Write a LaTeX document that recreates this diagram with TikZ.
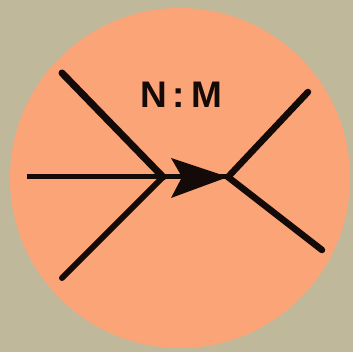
\documentclass[tikz,border=0pt]{standalone}
\usepackage{fontspec}
\setmainfont{Liberation Sans}
\definecolor{bgc}{RGB}{192,184,154}
\definecolor{disc}{RGB}{251,164,120}
\definecolor{ink}{RGB}{20,10,8}
\begin{document}
\begin{tikzpicture}[x=1pt,y=-1pt,
  thickline/.style={draw=ink,line cap=round},
  label/.style={text=ink,font=\bfseries\fontsize{37}{37}\selectfont,inner sep=0pt}]
\fill[bgc] (0,0) rectangle (353,352);
\useasboundingbox (0,0) rectangle (353,352);
\fill[disc] (180,178) circle (170);
\coordinate (ul) at (62,73);
\coordinate (ll) at (62,278);
\coordinate (l) at (27,177);
\coordinate (j1) at (163,177);
\coordinate (j2) at (228,177);
\coordinate (ur) at (308,92);
\coordinate (lr) at (322,250);
\draw[thickline,line width=7pt] (ul) -- (j1);
\draw[thickline,line width=6pt] (ll) -- (j1);
\draw[thickline,line width=5pt,line cap=butt] (l) -- (j2);
\draw[thickline,line width=6.5pt] (ur) -- (j2);
\draw[thickline,line width=6.5pt] (lr) -- (j2);
\fill[ink] (j2) -- (171,158) -- (182,177) -- (171,198) -- cycle;
\node[label] (t) at (181,95) {N\hspace{6pt}:\hspace{6pt}M};
\end{tikzpicture}
\end{document}
